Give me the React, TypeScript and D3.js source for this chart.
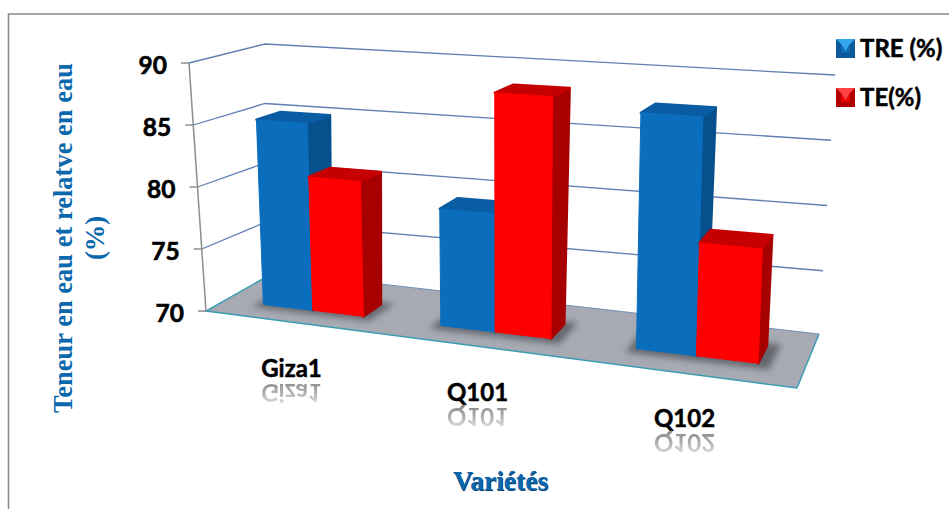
import React from "react";
import * as d3 from "d3";

// Chart data
const categories = ["Giza1", "Q101", "Q102"];
const seriesNames = ["TRE (%)", "TE(%)"];
const treValues = [85, 79.1, 87.6];
const teValues = [80.7, 88.4, 78.3];
const yTicks = [70, 75, 80, 85, 90];

// Projected corners of the 3D plot box: base (value 70) and ceiling (value 90)
type Pt = [number, number];
const floorCorners: Pt[] = [[206, 311], [797, 388], [819, 336], [265, 282]];
const ceilCorners: Pt[] = [[189, 63], [806, 100], [835, 75], [265, 44]];
// The grey floor plate runs a little further back than the walls' base
const floorPlate: Pt[] = [[206, 311], [797, 388], [819, 334], [275, 272]];

const valueT = d3.scaleLinear().domain([70, 90]).range([0, 1]);
const bandX = d3.scaleBand<string>().domain(categories).range([0, 1]).paddingInner(0.425).paddingOuter(0.2125);
const innerX = d3.scaleBand<number>().domain([0, 1]).range([0, bandX.bandwidth()]);

// Horizontal foreshortening: the right side of the box sits nearer the viewer
const foreshorten = (t: number) => t / (1.16 - 0.16 * t);

const lerp = (a: number, b: number, t: number) => a + (b - a) * t;
const bilinear = (q: Pt[], u: number, d: number): Pt => [
  lerp(lerp(q[0][0], q[1][0], u), lerp(q[3][0], q[2][0], u), d),
  lerp(lerp(q[0][1], q[1][1], u), lerp(q[3][1], q[2][1], u), d),
];
const project = (t: number, d: number, v: number): Pt => {
  const u = foreshorten(t);
  const a = bilinear(floorCorners, u, d);
  const b = bilinear(ceilCorners, u, d);
  const k = valueT(v);
  return [lerp(a[0], b[0], k), lerp(a[1], b[1], k)];
};

const poly = d3.line<Pt>().curve(d3.curveLinearClosed);
const depthFront = 0.37;
const depthBack = 0.72;

const palettes = [
  { front: "#0a6ebd", side: "#07508e", top: "#0a5ca3", id: "blue", light: "#35a5ee", mid: "#0c6cb6", dark: "#0d5a9a" },
  { front: "#fe0000", side: "#a70000", top: "#c40000", id: "red", light: "#ff4040", mid: "#ee0000", dark: "#b00000" },
];
const seriesValues = [treValues, teValues];

const sans = "Lato, 'Open Sans', sans-serif";
const serif = "'Liberation Serif', serif";
const titleBlue = "#0b68ad";

// Label positions follow the floor's front edge
const catLabelPos: { x: number; y: number }[] = [
  { x: 291.5, y: 377 },
  { x: 477.5, y: 401 },
  { x: 684.5, y: 427 },
];

function Bar({ cat, s }: { cat: string; s: number }) {
  const i = categories.indexOf(cat);
  const v = seriesValues[s][i];
  const t0 = bandX(cat)! + innerX(s)!;
  const t1 = t0 + innerX.bandwidth();
  const c = palettes[s];
  const front = [project(t0, depthFront, 70), project(t1, depthFront, 70), project(t1, depthFront, v), project(t0, depthFront, v)];
  const side = [project(t1, depthFront, 70), project(t1, depthBack, 70), project(t1, depthBack, v), project(t1, depthFront, v)];
  const top = [project(t0, depthFront, v), project(t1, depthFront, v), project(t1, depthBack, v), project(t0, depthBack, v)];
  const faceStyle = { strokeWidth: 2.5, strokeLinejoin: "round" as const };
  return (
    <g>
      <path d={poly(side)!} fill={c.side} stroke={c.side} {...faceStyle} />
      <path d={poly(top)!} fill={c.top} stroke={c.top} {...faceStyle} />
      <path d={poly(front)!} fill={c.front} stroke={c.front} strokeWidth={1} strokeLinejoin="round" />
    </g>
  );
}

function BarShadow({ cat }: { cat: string }) {
  const t0 = bandX(cat)! - 0.012;
  const t1 = bandX(cat)! + bandX.bandwidth() + 0.02;
  const pts = [project(t0, depthFront - 0.1, 70), project(t1, depthFront - 0.1, 70), project(t1, depthBack + 0.05, 70), project(t0, depthBack + 0.05, 70)];
  return <path d={poly(pts)!} fill="#5a5b62" opacity={0.85} filter="url(#soft)" />;
}

function Swatch({ x, y, s }: { x: number; y: number; s: number }) {
  const c = palettes[s];
  const w = 19;
  const b = 5;
  return (
    <g transform={`translate(${x},${y})`}>
      <rect width={w} height={w} fill={c.dark} />
      <path d={`M0,0H${w}L${w - b},${b}H${b}Z`} fill={c.light} />
      <path d={`M${b},${b}H${w - b}L${w / 2},${w / 2 + 3}Z`} fill={c.light} />
      <path d={`M${b},${b}L${w / 2},${w / 2 + 3}L${w - b},${b}V${w - b}H${b}Z`} fill={c.mid} />
    </g>
  );
}

export default function App() {
  const gridValues = yTicks.slice(1);
  return (
    <svg
      width={949}
      height={509}
      viewBox="0 0 949 509"
      style={{ position: "absolute", left: 0, top: 0, background: "#fff" }}
    >
      <defs>
        <filter id="soft" x="-20%" y="-40%" width="140%" height="180%">
          <feGaussianBlur stdDeviation={3} />
        </filter>
        <filter id="mirrorSoft">
          <feGaussianBlur stdDeviation={0.5} />
        </filter>
        <linearGradient id="reflect" x1="0" y1="0" x2="0" y2="1">
          <stop offset="0" stopColor="#f4f4f4" />
          <stop offset="0.45" stopColor="#b8b8b8" />
          <stop offset="1" stopColor="#808080" />
        </linearGradient>
      </defs>

      {/* Outer frame: left and top edges */}
      <path d="M8.5,509V14H949" fill="none" stroke="#8b8b8b" strokeWidth={1.6} />

      {/* Floor */}
      <path d={poly(floorPlate)!} fill="#a7aab3" stroke="none" />
      <path d={d3.line()([floorPlate[3], floorPlate[2]])!} stroke="#6f8fb5" strokeWidth={1} fill="none" />
      <path d={d3.line()([floorPlate[3], floorPlate[0], floorPlate[1], floorPlate[2]])!} stroke="#3b9db5" strokeWidth={1.5} fill="none" />

      {/* Wall gridlines */}
      {gridValues.map((v) => {
        const pts = [project(0, 0, v), project(0, 1, v), project(1, 1, v)];
        return <path key={v} d={d3.line()(pts)!} fill="none" stroke="#5f7fb2" strokeWidth={1.3} />;
      })}

      {/* Value axis */}
      <path d={d3.line()([project(0, 0, 90), project(0, 0, 70)])!} stroke="#8e8e8e" strokeWidth={1.5} fill="none" />
      {yTicks.map((v) => {
        const [x, y] = project(0, 0, v);
        return (
          <g key={v}>
            <line x1={x - 8} x2={x} y1={y} y2={y} stroke="#8e8e8e" strokeWidth={1.5} />
            <text x={x - 22} y={y + 10.5} textAnchor="end" fontFamily={sans} fontWeight={700} fontSize={24.5} fill="#000" stroke="#000" strokeWidth={0.6}>
              {v}
            </text>
          </g>
        );
      })}

      {/* Bars */}
      {categories.map((c) => <BarShadow key={c} cat={c} />)}
      {categories.map((c) => (
        <g key={c}>
          <Bar cat={c} s={0} />
          <Bar cat={c} s={1} />
        </g>
      ))}

      {/* Category labels with their mirrored reflections */}
      {categories.map((c, i) => {
        const { x, y } = catLabelPos[i];
        return (
          <g key={c} fontFamily={sans} fontWeight={700} fontSize={24} textAnchor="middle">
            <text x={x} y={y} fill="url(#reflect)" transform={`translate(0,${2 * y + 7}) scale(1,-1)`} filter="url(#mirrorSoft)">{c}</text>
            <text x={x} y={y} fill="#000" stroke="#000" strokeWidth={0.5}>{c}</text>
          </g>
        );
      })}

      {/* Axis titles */}
      <g fontFamily={serif} fontWeight={700} fill={titleBlue} textAnchor="middle" fontSize={26.5}>
        <text transform="translate(72,238) rotate(-90)">Teneur en eau et relatve en eau</text>
        <text transform="translate(104,238) rotate(-90)">(%)</text>
      </g>
      <text x={500.5} y={490} textAnchor="middle" fontFamily={serif} fontWeight={700} fontSize={27.5} fill="#0a3f70" transform="translate(0.8,0.8)">Variétés</text>
      <text x={500.5} y={490} textAnchor="middle" fontFamily={serif} fontWeight={700} fontSize={27.5} fill={titleBlue}>Variétés</text>

      {/* Legend */}
      {seriesNames.map((name, i) => (
        <g key={name}>
          <Swatch x={836} y={39 + i * 49} s={i} />
          <text x={860} y={57 + i * 49} fontFamily={sans} fontWeight={700} fontSize={24} fill="#000" stroke="#000" strokeWidth={0.5}>
            {name}
          </text>
        </g>
      ))}
    </svg>
  );
}
